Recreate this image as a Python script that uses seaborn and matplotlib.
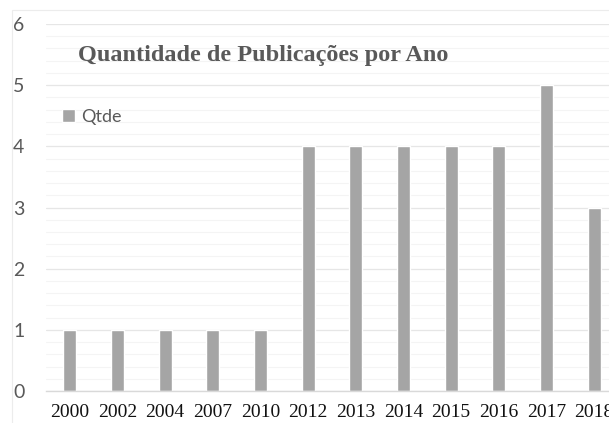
import numpy as np
import pandas as pd
import seaborn as sns
import matplotlib.pyplot as plt
from matplotlib.patches import Rectangle
from matplotlib.ticker import MultipleLocator, FixedLocator

anos = ['2000', '2002', '2004', '2007', '2010', '2012', '2013', '2014', '2015', '2016', '2017', '2018']
qtde = [1, 1, 1, 1, 1, 4, 4, 4, 4, 4, 5, 3]

df = pd.DataFrame({'ano': anos, 'qtde': qtde})

sns.set_style('white')
plt.rcParams['font.family'] = ['DejaVu Sans']

W, H = 609, 423
fig = plt.figure(figsize=(W / 100, H / 100), dpi=100)
ax = fig.add_axes([46 / W, 32 / H, (618 - 46) / W, (391 - 24) / H])

# faint chart border (partly cropped off in the original)
fig.patches.append(Rectangle((12 / W, -0.1), 1.2, 1 - 10 / H + 0.1, transform=fig.transFigure,
                             fill=False, edgecolor='#ececec', linewidth=0.8, zorder=0))

sns.barplot(data=df, x='ano', y='qtde', color='#a5a5a5', saturation=1, width=0.27,
            label='Qtde', ax=ax, zorder=3)

ax.set_ylim(0, 6)
ax.set_xlim(-0.5, len(anos) - 0.5)
ax.yaxis.set_major_locator(MultipleLocator(1))
ax.yaxis.set_minor_locator(MultipleLocator(0.2))
ax.grid(axis='y', which='major', color='#e6e6e6', linewidth=0.9, zorder=0)
ax.grid(axis='y', which='minor', color='#f4f4f4', linewidth=0.8, zorder=0)
ax.set_axisbelow(True)

for s in ['top', 'right', 'left']:
    ax.spines[s].set_visible(False)
ax.spines['bottom'].set_color('#d9d9d9')
ax.spines['bottom'].set_linewidth(1.0)
ax.spines['bottom'].set_zorder(4)

ax.set_xlabel('')
ax.set_ylabel('')

# x labels centered on bars, tick marks at category boundaries
ax.xaxis.set_minor_locator(FixedLocator(np.arange(-0.5, len(anos), 1.0)))
ax.tick_params(axis='x', which='major', length=0, pad=9, labelsize=14, labelcolor='#111111')
ax.tick_params(axis='x', which='minor', length=5, color='#d9d9d9', width=1.0, direction='out')
for lab in ax.get_xticklabels():
    lab.set_family('Liberation Serif')

# y labels left-aligned near the chart border
ax.tick_params(axis='y', which='both', length=0, pad=(46 - 13) * 0.72, labelsize=14, labelcolor='#595959')
for lab in ax.get_yticklabels():
    lab.set_family('Lato')
    lab.set_horizontalalignment('left')

fig.text(263 / W, 1 - 55 / H, 'Quantidade de Publicações por Ano', ha='center', va='center',
         fontsize=17.5, fontweight='bold', color='#595959', family='Liberation Serif')

ax.legend(loc='center left', bbox_to_anchor=(62 / W, 1 - 117 / H), bbox_transform=fig.transFigure,
          frameon=False, borderpad=0, borderaxespad=0, handlelength=0.7, handleheight=0.7,
          handletextpad=0.35, prop={'family': 'Lato', 'size': 13}, labelcolor='#595959')

fig.savefig('out.png', dpi=100)
